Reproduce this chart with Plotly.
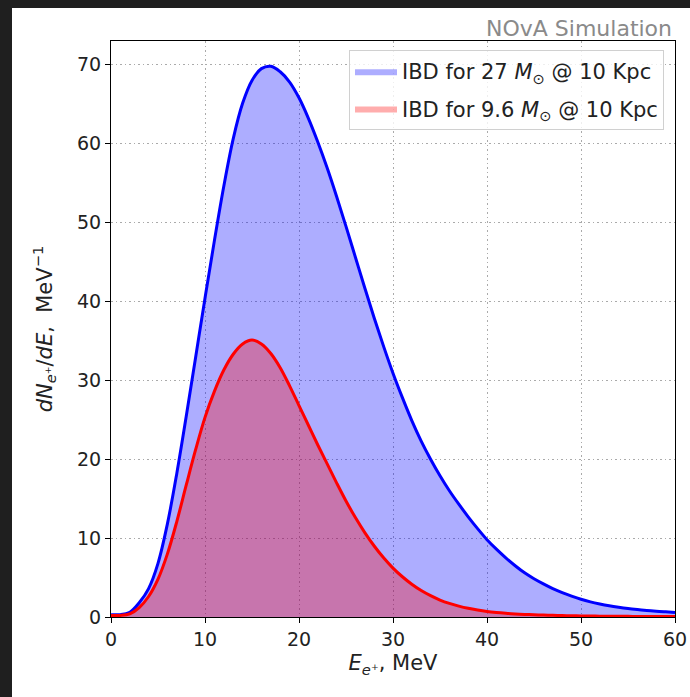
import plotly.graph_objects as go

# Positron energy (MeV)
energy = list(range(0, 61))

# dN/dE for 27 Msun progenitor @ 10 kpc
ibd_27 = [0.3, 0.3, 0.6, 1.8, 3.6, 6.8, 11.8, 18.2, 25.4, 32.9,
          40.4, 47.7, 54.6, 60.6, 65.1, 68.0, 69.5, 69.8, 69.1, 67.8,
          65.8, 63.2, 60.2, 56.9, 53.3, 49.5, 45.6, 41.7, 37.9, 34.3,
          30.9, 27.8, 24.9, 22.3, 20.0, 17.9, 16.0, 14.3, 12.7, 11.2,
          9.8, 8.6, 7.5, 6.5, 5.6, 4.85, 4.2, 3.6, 3.1, 2.65,
          2.25, 1.92, 1.65, 1.42, 1.23, 1.07, 0.94, 0.83, 0.73, 0.65, 0.58]

# dN/dE for 9.6 Msun progenitor @ 10 kpc
ibd_96 = [0.2, 0.2, 0.4, 1.2, 2.6, 4.8, 8.0, 12.1, 16.7, 21.2,
          25.3, 28.6, 31.3, 33.3, 34.6, 35.1, 34.6, 33.4, 31.6, 29.3,
          26.8, 24.3, 21.8, 19.4, 17.0, 14.7, 12.6, 10.7, 9.0, 7.5,
          6.2, 5.1, 4.15, 3.35, 2.7, 2.15, 1.72, 1.38, 1.1, 0.88,
          0.7, 0.57, 0.47, 0.39, 0.33, 0.28, 0.24, 0.21, 0.18, 0.16,
          0.14, 0.12, 0.11, 0.1, 0.09, 0.08, 0.07, 0.06, 0.06, 0.05, 0.05]

x_ticks = [0, 10, 20, 30, 40, 50, 60]
y_ticks = [0, 10, 20, 30, 40, 50, 60, 70]

label_27 = "IBD for 27 <i>M</i><sub>⊙</sub> @ 10 Kpc"
label_96 = "IBD for 9.6 <i>M</i><sub>⊙</sub> @ 10 Kpc"

FONT = "DejaVu Sans, Liberation Sans, sans-serif"

fig = go.Figure()
fig.add_trace(go.Scatter(x=energy, y=ibd_27, mode="lines", line=dict(width=0, shape="spline"),
                         fill="tozeroy", fillcolor="rgba(0,0,255,0.32)", name=label_27,
                         legendgroup="a", hoverinfo="skip"))
fig.add_trace(go.Scatter(x=energy, y=ibd_96, mode="lines", line=dict(width=0, shape="spline"),
                         fill="tozeroy", fillcolor="rgba(255,0,0,0.32)", name=label_96,
                         legendgroup="b", hoverinfo="skip"))
fig.add_trace(go.Scatter(x=energy, y=ibd_27, mode="lines",
                         line=dict(color="#0000ff", width=3, shape="spline"), showlegend=False))
fig.add_trace(go.Scatter(x=energy, y=ibd_96, mode="lines",
                         line=dict(color="#ff0000", width=3, shape="spline"), showlegend=False))

W, H = 690, 697
L, R, T, B = 111, 15, 41, 80
pw, ph = W - L - R, H - T - B

axis_common = dict(
    showline=True, linecolor="black", linewidth=1.2, mirror=True,
    ticks="outside", ticklen=5, tickwidth=1.2, tickcolor="black",
    showgrid=True, gridcolor="#aaaaaa", griddash="1.5px,3px", gridwidth=1,
    zeroline=False, automargin=False,
    tickfont=dict(family=FONT, size=19, color="#222222"),
)

fig.update_layout(
    width=W, height=H,
    margin=dict(l=L, r=R, t=T, b=B),
    paper_bgcolor="white", plot_bgcolor="white",
    font=dict(family=FONT, size=19, color="#222222"),
    xaxis=dict(range=[0, 60], tickvals=x_ticks, **axis_common,
               title=dict(text="<i>E</i><sub><i>e</i>⁺</sub>, MeV", font=dict(size=21), standoff=6)),
    yaxis=dict(range=[0, 73.0], tickvals=y_ticks, **axis_common,
               title=dict(text="<i>dN</i><sub><i>e</i>⁺</sub>/<i>dE</i>,&nbsp;&nbsp;MeV<sup>−1</sup>",
                          font=dict(size=21), standoff=18)),
    legend=dict(x=(664 - L) / pw, xanchor="right", y=1 - (50 - T) / ph, yanchor="top",
                bgcolor="rgba(255,255,255,0.8)", bordercolor="#d0d0d0", borderwidth=1,
                font=dict(family=FONT, size=21, color="#222222"),
                itemwidth=42, tracegroupgap=7),
    showlegend=True,
    annotations=[dict(text="NOvA Simulation", xref="paper", yref="paper",
                      x=(674 - L) / pw, xanchor="right", y=1 + (41 - 28) / ph, yanchor="middle",
                      showarrow=False, font=dict(family=FONT, size=22, color="#8a8a8a"))],
    shapes=[
        dict(type="rect", xref="paper", yref="paper", layer="above",
             x0=-L / pw - 0.05, x1=(12 - L) / pw, y0=-B / ph - 0.05, y1=1 + T / ph + 0.05,
             fillcolor="#1f1f1f", line=dict(width=0)),
        dict(type="rect", xref="paper", yref="paper", layer="above",
             x0=-L / pw - 0.05, x1=1 + R / pw + 0.05, y0=1 + (T - 8) / ph, y1=1 + T / ph + 0.05,
             fillcolor="#1f1f1f", line=dict(width=0)),
    ],
)

fig.write_html("out.html")
